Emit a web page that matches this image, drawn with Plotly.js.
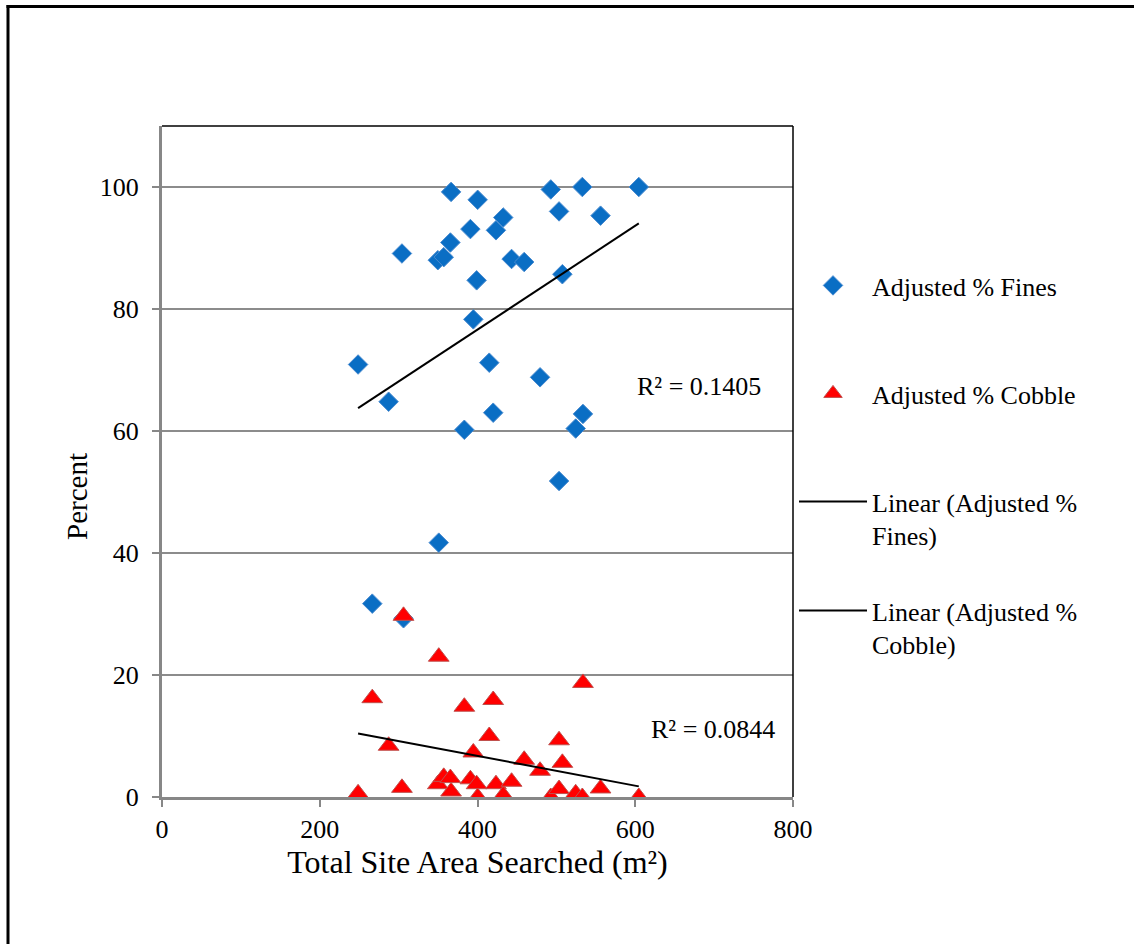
<!DOCTYPE html>
<html>
<head>
<meta charset="utf-8">
<script src="https://cdn.plot.ly/plotly-3.0.1.min.js"></script>
<style>html,body{margin:0;padding:0;background:#fff;}#chart{width:1134px;height:944px;}</style>
</head>
<body>
<div id="chart"></div>
<script>
// Total site area searched (m²)
const area = [248.6, 266.6, 287.3, 304.2, 306.2, 349.7, 350.9, 357.2, 365.6, 366.5, 383.3, 391.0, 394.7, 398.9, 400.2, 414.9, 419.9, 423.4, 432.6, 443.2, 459.2, 479.3, 492.9, 503.4, 503.4, 507.6, 524.5, 532.9, 533.7, 556.0, 604.5];
// Adjusted % Fines
const fines = [70.9, 31.7, 64.8, 89.1, 29.3, 88.0, 41.7, 88.5, 90.9, 99.2, 60.2, 93.1, 78.3, 84.7, 97.9, 71.2, 63.0, 92.9, 95.0, 88.2, 87.7, 68.8, 99.6, 96.0, 51.8, 85.7, 60.4, 100.0, 62.8, 95.3, 100.0];
// Adjusted % Cobble
const cobble = [0.6, 16.2, 8.4, 1.5, 29.7, 2.1, 23.0, 3.3, 3.1, 0.9, 14.8, 2.9, 7.3, 2.1, 0.0, 10.0, 15.9, 2.1, 0.3, 2.5, 6.1, 4.3, 0.0, 1.3, 9.3, 5.6, 0.6, 0.0, 18.7, 1.4, 0.0];
const seriesNames = ['Adjusted % Fines', 'Adjusted % Cobble', 'Linear (Adjusted %<br>Fines)', 'Linear (Adjusted %<br>Cobble)'];
const r2Labels = ["R² = 0.1405", "R² = 0.0844"];
const xTicks = [0, 200, 400, 600, 800];
const yTicks = [0, 20, 40, 60, 80, 100];

function linFit(xs, ys) {
  const n = xs.length;
  let sx = 0, sy = 0, sxx = 0, sxy = 0;
  for (let i = 0; i < n; i++) { sx += xs[i]; sy += ys[i]; sxx += xs[i]*xs[i]; sxy += xs[i]*ys[i]; }
  const b = (n*sxy - sx*sy) / (n*sxx - sx*sx);
  const a = (sy - b*sx) / n;
  const x0 = Math.min(...xs), x1 = Math.max(...xs);
  return {x: [x0, x1], y: [a + b*x0, a + b*x1]};
}
const fFit = linFit(area, fines);
const cFit = linFit(area, cobble);

const FONT = 'Liberation Serif, Times New Roman, serif';
// pixel helpers for placing paper-referenced decorations
const L = 162, R = 793, T = 126, B = 797;
const px = p => (p - L) / (R - L);
const py = p => (B - p) / (B - T);

const traces = [
  {x: area, y: fines, mode: 'markers', type: 'scatter', name: seriesNames[0], legend: 'legend',
   marker: {symbol: 'diamond', size: 15, color: '#0A6EC4', line: {color: '#4A8BD0', width: 1}}},
  {x: area, y: cobble, mode: 'markers', type: 'scatter', name: seriesNames[1], legend: 'legend2',
   marker: {symbol: 'triangle-up', size: 18, color: '#FF0000', line: {color: '#C0504D', width: 1}}},
  {x: fFit.x, y: fFit.y, mode: 'lines', type: 'scatter', name: seriesNames[2], legend: 'legend3',
   line: {color: '#000000', width: 2}},
  {x: cFit.x, y: cFit.y, mode: 'lines', type: 'scatter', name: seriesNames[3], legend: 'legend4',
   line: {color: '#000000', width: 2}}
];

function legendAt(centerPx) {
  return {x: px(794), xanchor: 'left', y: py(centerPx - 24), yanchor: 'top', itemwidth: 68,
          valign: 'top', font: {family: FONT, size: 26, color: '#000'}, bgcolor: 'rgba(0,0,0,0)'};
}

const layout = {
  width: 1134, height: 944,
  margin: {l: L, r: 1134 - R, t: T, b: 944 - B},
  paper_bgcolor: '#ffffff', plot_bgcolor: '#ffffff',
  font: {family: FONT, size: 26, color: '#000000'},
  showlegend: true,
  legend: legendAt(286),
  legend2: legendAt(394),
  legend3: legendAt(502),
  legend4: legendAt(611),
  xaxis: {range: [0, 800], tickvals: xTicks, ticktext: xTicks.map(String), showgrid: false, zeroline: false,
          showline: true, linecolor: '#878787', linewidth: 3, ticks: 'outside', ticklen: 7, tickwidth: 2,
          tickcolor: '#878787', tickfont: {family: FONT, size: 26, color: '#000'},
          title: {text: 'Total Site Area Searched (m²)', font: {family: FONT, size: 32, color: '#000'}, standoff: 7}},
  yaxis: {range: [0, 110], tickvals: yTicks, ticktext: yTicks.map(String), showgrid: true, gridcolor: '#8C8C8C', gridwidth: 2,
          zeroline: false, showline: true, linecolor: '#878787', linewidth: 3, ticks: 'outside', ticklen: 7, tickwidth: 2,
          tickcolor: '#878787', tickfont: {family: FONT, size: 26, color: '#000'}, ticklabelstandoff: 8},
  annotations: [
    {xref: 'paper', yref: 'paper', x: px(77), y: py(497), text: 'Percent', showarrow: false, textangle: -90,
     font: {family: FONT, size: 29, color: '#000'}, xanchor: 'center', yanchor: 'middle'},
    {xref: 'paper', yref: 'paper', x: px(699), y: py(386), text: r2Labels[0], showarrow: false,
     font: {family: FONT, size: 26, color: '#000'}, xanchor: 'center', yanchor: 'middle'},
    {xref: 'paper', yref: 'paper', x: px(713), y: py(729), text: r2Labels[1], showarrow: false,
     font: {family: FONT, size: 26, color: '#000'}, xanchor: 'center', yanchor: 'middle'}
  ],
  shapes: [
    // plot area top and right border
    {type: 'line', xref: 'paper', yref: 'paper', x0: 0, x1: 1, y0: 1, y1: 1, line: {color: '#000', width: 1.5}},
    {type: 'line', xref: 'paper', yref: 'paper', x0: 1, x1: 1, y0: 0, y1: 1, line: {color: '#000', width: 1.5}},
    // outer chart frame (left and top)
    {type: 'line', xref: 'paper', yref: 'paper', x0: px(8), x1: px(8), y0: py(5), y1: py(944), line: {color: '#000', width: 3}},
    {type: 'line', xref: 'paper', yref: 'paper', x0: px(6.5), x1: px(1134), y0: py(6.5), y1: py(6.5), line: {color: '#000', width: 3}}
  ]
};

Plotly.newPlot('chart', traces, layout, {staticPlot: true, displayModeBar: false});
</script>
</body>
</html>
